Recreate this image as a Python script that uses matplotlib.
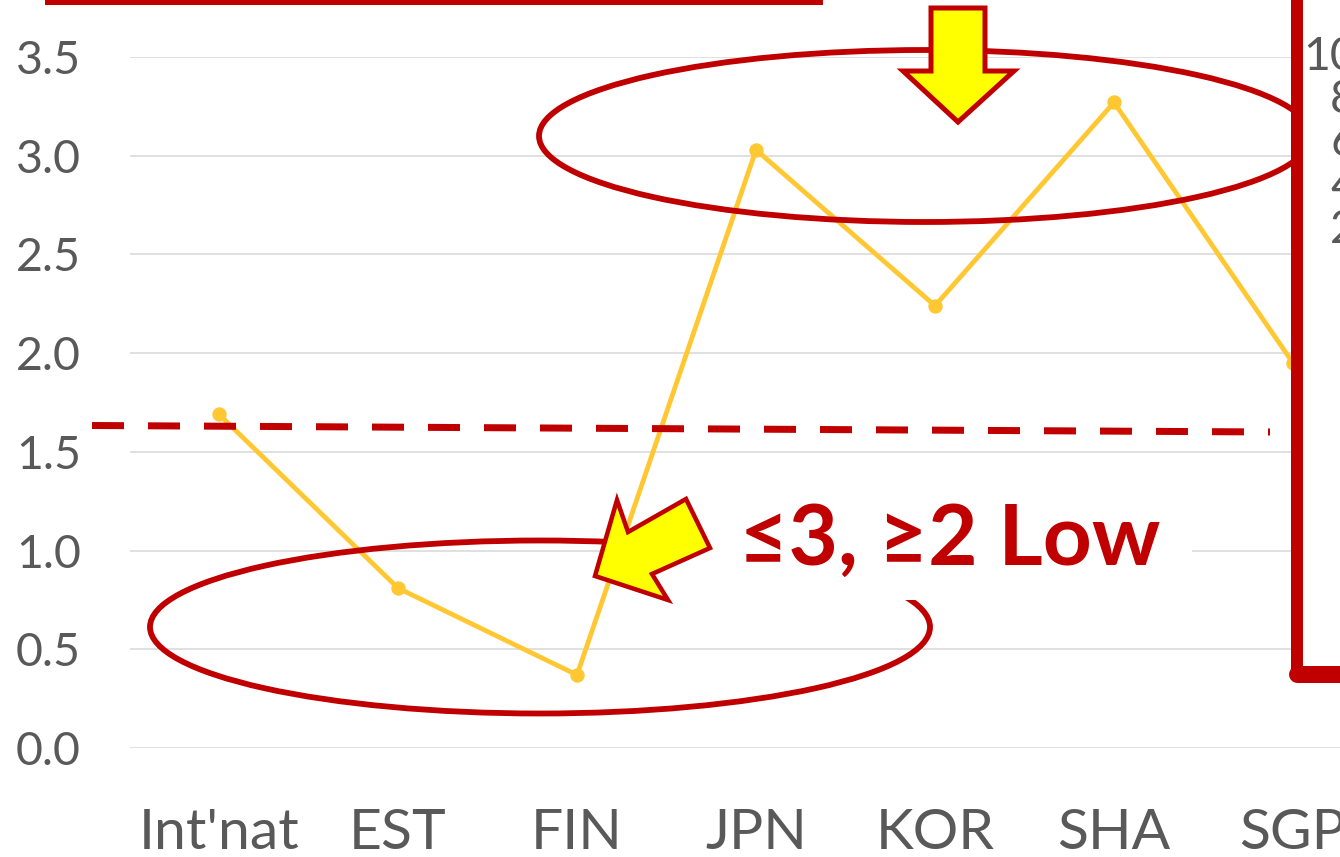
import matplotlib
matplotlib.use('Agg')
import matplotlib.pyplot as plt
from matplotlib.patches import Ellipse, Polygon, Rectangle
from matplotlib.lines import Line2D

# ---------------- data ----------------
categories = ["Int'nat", "EST", "FIN", "JPN", "KOR", "SHA", "SGP"]
values = [1.69, 0.81, 0.37, 3.03, 2.24, 3.27, 1.95]
y_ticks = [0.0, 0.5, 1.0, 1.5, 2.0, 2.5, 3.0, 3.5]
y_tick_labels = ["0.0", "0.5", "1.0", "1.5", "2.0", "2.5", "3.0", "3.5"]
right_tick_labels = ["10", "8", "6", "4", "2"]
callout_text = "≤3, ≥2 Low"

# ---------------- styling ----------------
W, H = 1340, 857
RED = '#C00000'
GOLD = '#FFC832'
GRAY = '#595959'
GRID = '#D9D9D9'
YELLOW = '#FFFF00'

plt.rcParams['font.family'] = ['Lato', 'DejaVu Sans']

def fx(px):
    return px / W

def fy(py):
    return 1 - py / H

def lw(px):
    return px * 72 / 100

fig = plt.figure(figsize=(W / 100, H / 100), dpi=100)
fig.patch.set_facecolor('white')

ax = fig.add_axes([fx(129.5), fy(748), fx(1340) - fx(129.5), fy(57) - fy(748)])
ax.set_xlim(-0.5, -0.5 + (1340 - 129.5) / 179)
ax.set_ylim(0, 3.5)
for s in ax.spines.values():
    s.set_visible(False)
ax.set_yticks(y_ticks)
ax.set_yticklabels(y_tick_labels)
ax.set_xticks(range(len(categories)))
ax.set_xticklabels(categories)
ax.yaxis.grid(True, color=GRID, linewidth=lw(1.6))
ax.set_axisbelow(True)
ax.tick_params(axis='y', length=0, pad=35, labelsize=33.5, labelcolor=GRAY)
ax.tick_params(axis='x', length=0, pad=43, labelsize=41, labelcolor=GRAY)

ax.plot(range(len(categories)), values, color=GOLD, lw=lw(4.8), marker='o',
        ms=lw(13), clip_on=False, zorder=3)

# ---------------- annotations (figure pixel coords) ----------------
# top red bar
fig.add_artist(Rectangle((fx(45), fy(5)), fx(823) - fx(45), fy(0) - fy(5),
                         transform=fig.transFigure, facecolor=RED, edgecolor='none', zorder=5))

# dashed threshold line
dash = Line2D([fx(92), fx(1270)], [fy(425.5), fy(432)], transform=fig.transFigure,
              color=RED, lw=lw(7), dashes=(32 / 7, 24 / 7), dash_capstyle='butt', zorder=4)
fig.add_artist(dash)

# ellipses
fig.add_artist(Ellipse((fx(925), fy(136)), 2 * 386 / W, 2 * 86 / H, transform=fig.transFigure,
                       fill=False, edgecolor=RED, lw=lw(5.8), zorder=5))
fig.add_artist(Ellipse((fx(540), fy(627)), 2 * 390 / W, 2 * 86.5 / H, transform=fig.transFigure,
                       fill=False, edgecolor=RED, lw=lw(5.8), zorder=5))

# white callout box and text
fig.add_artist(Rectangle((fx(700), fy(600)), fx(1192) - fx(700), fy(490) - fy(600),
                         transform=fig.transFigure, facecolor='white', edgecolor='none', zorder=6))
fig.text(fx(739), fy(565), callout_text, fontsize=61.5, fontweight='bold', color=RED,
         ha='left', va='baseline', zorder=7)

# down arrow
down = [(931, 8), (985, 8), (985, 71), (1014, 71), (958, 122), (903, 71), (931, 71)]
fig.add_artist(Polygon([(fx(x), fy(y)) for x, y in down], closed=True, transform=fig.transFigure,
                       facecolor=YELLOW, edgecolor=RED, lw=lw(5), zorder=8))

# left-down arrow
ld = [(595, 576), (617, 500), (628, 532), (686, 499), (710, 548), (652, 574), (668, 600)]
fig.add_artist(Polygon([(fx(x), fy(y)) for x, y in ld], closed=True, transform=fig.transFigure,
                       facecolor=YELLOW, edgecolor=RED, lw=lw(4.5), zorder=8))

# right overlapping panel (white cover + red frame + partial tick labels)
fig.add_artist(Rectangle((fx(1297), fy(674)), fx(1345) - fx(1297), fy(0) - fy(674),
                         transform=fig.transFigure, facecolor='white', edgecolor='none', zorder=9))
fig.add_artist(Line2D([fx(1297), fx(1297)], [fy(-10), fy(676)], transform=fig.transFigure,
                      color=RED, lw=lw(12), solid_capstyle='round', zorder=10))
fig.add_artist(Line2D([fx(1297), fx(1350)], [fy(673.5), fy(673.5)], transform=fig.transFigure,
                      color=RED, lw=lw(17), solid_capstyle='round', zorder=10))
for i, lab in enumerate(right_tick_labels):
    fig.text(fx(1357), fy(57 + 43.2 * i), lab, fontsize=33.5, color=GRAY,
             ha='right', va='center', zorder=11)

fig.savefig('out.png', dpi=100, facecolor='white')
